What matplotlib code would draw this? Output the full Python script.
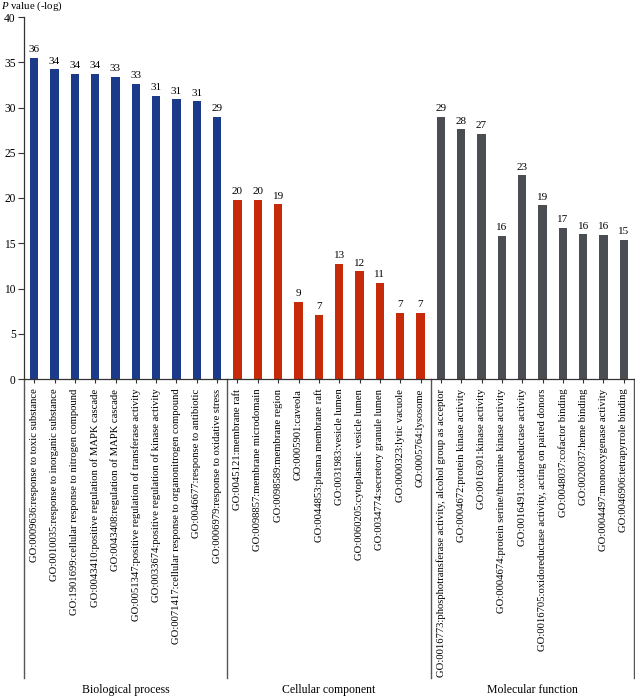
import matplotlib
matplotlib.use("Agg")
import matplotlib.pyplot as plt
import matplotlib.transforms as mtransforms
import numpy as np

plt.rcParams['font.family'] = ['Liberation Serif', 'DejaVu Serif']
plt.rcParams['mathtext.fontset'] = 'custom'
plt.rcParams['mathtext.rm'] = 'Liberation Serif'
plt.rcParams['mathtext.it'] = 'Liberation Serif:italic'

groups = ["Biological process", "Cellular component", "Molecular function"]

bp_terms = [
    "GO:0009636:response to toxic substance",
    "GO:0010035:response to inorganic substance",
    "GO:1901699:cellular response to nitrogen compound",
    "GO:0043410:positive regulation of MAPK cascade",
    "GO:0043408:regulation of MAPK cascade",
    "GO:0051347:positive regulation of transferase activity",
    "GO:0033674:positive regulation of kinase activity",
    "GO:0071417:cellular response to organonitrogen compound",
    "GO:0046677:response to antibiotic",
    "GO:0006979:response to oxidative stress",
]
bp_values = [35.5, 34.2, 33.7, 33.7, 33.4, 32.6, 31.3, 30.9, 30.7, 29.0]
bp_labels = ["36", "34", "34", "34", "33", "33", "31", "31", "31", "29"]

cc_terms = [
    "GO:0045121:membrane raft",
    "GO:0098857:membrane microdomain",
    "GO:0098589:membrane region",
    "GO:0005901:caveola",
    "GO:0044853:plasma membrane raft",
    "GO:0031983:vesicle lumen",
    "GO:0060205:cytoplasmic vesicle lumen",
    "GO:0034774:secretory granule lumen",
    "GO:0000323:lytic vacuole",
    "GO:0005764:lysosome",
]
cc_values = [19.8, 19.8, 19.3, 8.5, 7.1, 12.7, 11.9, 10.6, 7.3, 7.3]
cc_labels = ["20", "20", "19", "9", "7", "13", "12", "11", "7", "7"]

mf_terms = [
    "GO:0016773:phosphotransferase activity, alcohol group as acceptor",
    "GO:0004672:protein kinase activity",
    "GO:0016301:kinase activity",
    "GO:0004674:protein serine/threonine kinase activity",
    "GO:0016491:oxidoreductase activity",
    "GO:0016705:oxidoreductase activity, acting on paired donors",
    "GO:0048037:cofactor binding",
    "GO:0020037:heme binding",
    "GO:0004497:monooxygenase activity",
    "GO:0046906:tetrapyrrole binding",
]
mf_values = [29.0, 27.6, 27.1, 15.8, 22.5, 19.2, 16.7, 16.0, 15.9, 15.4]
mf_labels = ["29", "28", "27", "16", "23", "19", "17", "16", "16", "15"]

colors = ["#1b3a8a", "#c72a08", "#4a4d51"]

W, H = 635, 698
fig = plt.figure(figsize=(W / 100, H / 100), dpi=100)
ax = fig.add_axes([24 / W, 1 - 379 / H, 610 / W, (379 - 17) / H])

all_terms = []
start = 0
sections = [(bp_terms, bp_values, bp_labels), (cc_terms, cc_values, cc_labels),
            (mf_terms, mf_values, mf_labels)]
for gi, (terms, vals, labs) in enumerate(sections):
    x = np.arange(start, start + len(vals))
    bars = ax.bar(x, vals, width=0.4, color=colors[gi], zorder=2)
    for b, lab in zip(bars, labs):
        ax.text(b.get_x() + b.get_width() / 2, b.get_height() + 0.4, lab,
                ha='center', va='bottom', fontsize=8)
    all_terms.extend(terms)
    start += len(vals)

n = len(all_terms)
ax.set_xlim(-0.5, n - 0.5)
ax.set_ylim(0, 40)
ax.set_yticks(np.arange(0, 41, 5))
ax.set_xticks(np.arange(n))
ax.set_xticklabels(all_terms, rotation=90, fontsize=7.7, va='top', ha='center')
ax.tick_params(axis='x', length=3, pad=4, width=0.8, color='#333333')
ax.tick_params(axis='y', length=4, pad=2, width=0.8, labelsize=8.3, color='#333333')

for s in ['top', 'right']:
    ax.spines[s].set_visible(False)
for s in ['left', 'bottom']:
    ax.spines[s].set_color('#333333')
    ax.spines[s].set_linewidth(0.9)

# group separators
trans = mtransforms.blended_transform_factory(ax.transData, fig.transFigure)
y_top = 1 - 379 / H
y_bot = 1 - 678 / H
bounds = [-0.5]
cnt = 0
for terms, _, _ in sections:
    cnt += len(terms)
    bounds.append(cnt - 0.5)
for b in bounds:
    ax.plot([b, b], [y_top, y_bot], transform=trans, color='#555555', lw=1.0,
            clip_on=False)

cnt = 0
for gi, (terms, _, _) in enumerate(sections):
    cx = cnt + (len(terms) - 1) / 2
    ax.text(cx, 1 - 690 / H, groups[gi], transform=trans, ha='center',
            va='center', fontsize=8.5)
    cnt += len(terms)

fig.text(0.002, 1 - 8.8 / H, r'$\it{P}$ value (-log)', ha='left', va='baseline',
         fontsize=7.8)

fig.savefig("out.png", dpi=100)
